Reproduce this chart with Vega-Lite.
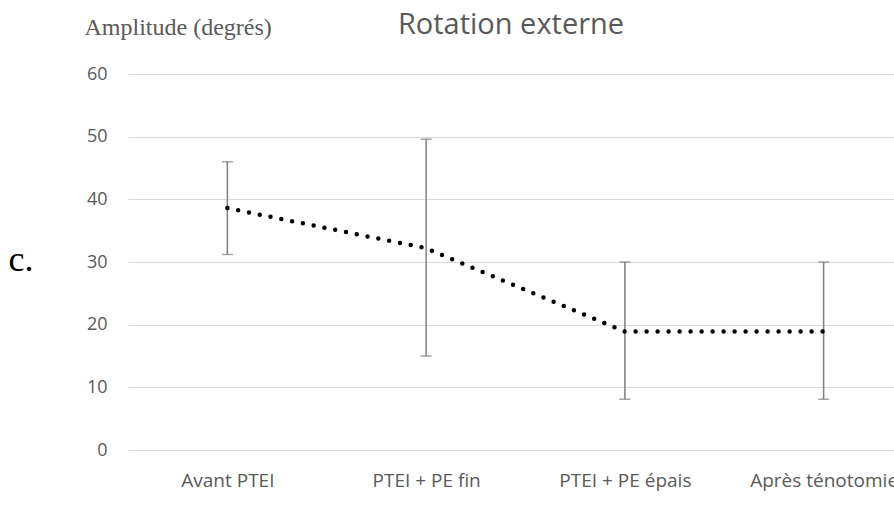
{
  "$schema": "https://vega.github.io/schema/vega-lite/v6.json",
  "width": 766,
  "height": 376,
  "autosize": {"type": "none"},
  "padding": {"left": 128, "top": 74, "right": 0, "bottom": 56},
  "background": "white",
  "config": {
    "view": {"stroke": null}
  },
  "title": {"text": "Rotation externe", "font": "Open Sans", "fontSize": 29, "fontWeight": "normal", "color": "#595959", "anchor": "middle", "baseline": "alphabetic", "offset": -48},
  "data": {"values": [
    {"etape": "Avant PTEI", "moyenne": 38.6, "bas": 31.2, "haut": 46.0},
    {"etape": "PTEI + PE fin", "moyenne": 32.2, "bas": 15.0, "haut": 49.6},
    {"etape": "PTEI + PE épais", "moyenne": 18.9, "bas": 8.1, "haut": 30.0},
    {"etape": "Après ténotomie", "moyenne": 18.9, "bas": 8.1, "haut": 30.0}
  ]},
  "encoding": {
    "x": {"field": "etape", "type": "ordinal", "sort": null,
      "scale": {"type": "point", "padding": 0.5, "range": [0, 795]},
      "axis": {"title": "c.", "titleFont": "Liberation Serif", "titleFontSize": 36, "titleColor": "black", "titleFontWeight": "normal", "titleAngle": 0, "titleAlign": "left", "titleBaseline": "alphabetic", "titleX": -120, "titleY": -180,
        "labelAngle": 0, "labelFont": "Open Sans", "labelFontSize": 19, "labelColor": "#595959", "labelBaseline": "alphabetic", "labelPadding": 36, "labelOverlap": false, "tickSize": 0, "ticks": false, "domain": false, "grid": false}}
  },
  "layer": [
    {"mark": {"type": "rule", "color": "#7f7f7f", "strokeWidth": 1.5},
     "encoding": {
       "y": {"field": "bas", "type": "quantitative", "scale": {"domain": [0, 60], "nice": false, "zero": true},
         "axis": {"title": "Amplitude (degrés)", "titleAngle": 0, "titleAlign": "left", "titleBaseline": "alphabetic", "titleX": -44, "titleY": -40, "titleFont": "Liberation Serif", "titleFontSize": 24, "titleFontWeight": "normal", "titleColor": "#595959",
           "values": [0, 10, 20, 30, 40, 50, 60], "domain": false, "ticks": false, "tickSize": 0, "labelPadding": 21, "labelFont": "Open Sans", "labelFontSize": 18, "labelColor": "#595959", "grid": true, "gridColor": "#d9d9d9", "gridWidth": 1.2}},
       "y2": {"field": "haut"}}},
    {"mark": {"type": "tick", "color": "#7f7f7f", "thickness": 1.5, "size": 11},
     "encoding": {"y": {"field": "bas", "type": "quantitative",
         "axis": {"title": "Amplitude (degrés)", "titleAngle": 0, "titleAlign": "left", "titleBaseline": "alphabetic", "titleX": -44, "titleY": -40, "titleFont": "Liberation Serif", "titleFontSize": 24, "titleFontWeight": "normal", "titleColor": "#595959",
           "values": [0, 10, 20, 30, 40, 50, 60], "domain": false, "ticks": false, "tickSize": 0, "labelPadding": 21, "labelFont": "Open Sans", "labelFontSize": 18, "labelColor": "#595959", "grid": true, "gridColor": "#d9d9d9", "gridWidth": 1.2}}}},
    {"mark": {"type": "tick", "color": "#7f7f7f", "thickness": 1.5, "size": 11},
     "encoding": {"y": {"field": "haut", "type": "quantitative",
         "axis": {"title": "Amplitude (degrés)", "titleAngle": 0, "titleAlign": "left", "titleBaseline": "alphabetic", "titleX": -44, "titleY": -40, "titleFont": "Liberation Serif", "titleFontSize": 24, "titleFontWeight": "normal", "titleColor": "#595959",
           "values": [0, 10, 20, 30, 40, 50, 60], "domain": false, "ticks": false, "tickSize": 0, "labelPadding": 21, "labelFont": "Open Sans", "labelFontSize": 18, "labelColor": "#595959", "grid": true, "gridColor": "#d9d9d9", "gridWidth": 1.2}}}},
    {"mark": {"type": "line", "color": "black", "strokeWidth": 4.5, "strokeCap": "round", "strokeDash": [0, 11]},
     "encoding": {"y": {"field": "moyenne", "type": "quantitative",
         "axis": {"title": "Amplitude (degrés)", "titleAngle": 0, "titleAlign": "left", "titleBaseline": "alphabetic", "titleX": -44, "titleY": -40, "titleFont": "Liberation Serif", "titleFontSize": 24, "titleFontWeight": "normal", "titleColor": "#595959",
           "values": [0, 10, 20, 30, 40, 50, 60], "domain": false, "ticks": false, "tickSize": 0, "labelPadding": 21, "labelFont": "Open Sans", "labelFontSize": 18, "labelColor": "#595959", "grid": true, "gridColor": "#d9d9d9", "gridWidth": 1.2}}}}
  ]
}
